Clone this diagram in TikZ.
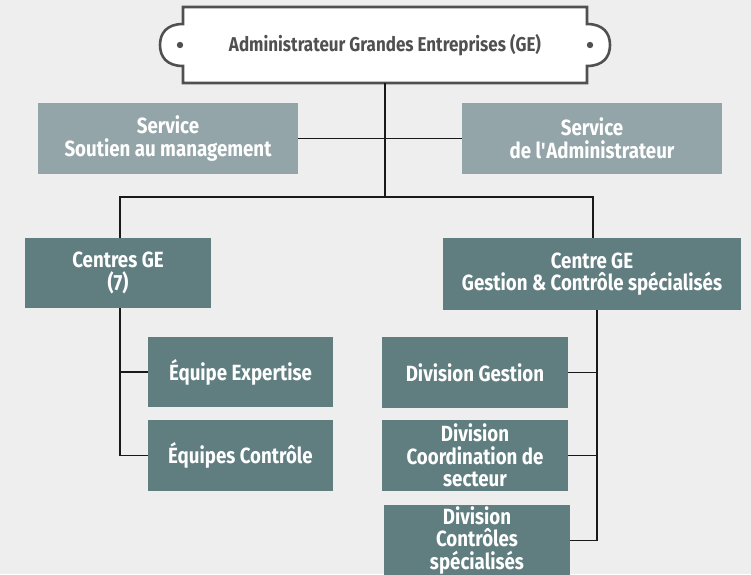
\documentclass[tikz,border=0pt]{standalone}
\usepackage{fontspec}
\setmainfont{Fira Sans}[FakeStretch=0.85]

\definecolor{bgc}{HTML}{EEEEEE}
\definecolor{svcc}{HTML}{93A5A8}
\definecolor{boxc}{HTML}{607D80}
\definecolor{frameg}{HTML}{505050}

\tikzset{
  boxtext/.style={font=\fontsize{22}{22.5}\selectfont\bfseries, text=white, align=center, inner sep=0pt},
  lbox/.style={boxtext, fill=svcc, minimum width=260pt, minimum height=71pt},
  dbox/.style={boxtext, fill=boxc, minimum width=186pt, minimum height=71pt},
  link/.style={draw=black!90, line width=1.4pt},
}

\begin{document}
\begin{tikzpicture}[x=1pt,y=-1pt]
        \useasboundingbox (0,0) rectangle (751,574);
        \clip (0,0) rectangle (751,574);
        \fill[bgc] (0,0) rectangle (751,574);

        % banner
        \draw[frameg, line width=2.6pt, fill=white] (183,7) -- (587,7) -- (587,24)
          .. controls (603,24) and (610,33) .. (610,45)
          .. controls (610,57) and (603,66) .. (587,66) -- (587,83) -- (183,83) -- (183,66)
          .. controls (167,66) and (160,57) .. (160,45)
          .. controls (160,33) and (167,24) .. (183,24) -- cycle;
        \fill[frameg] (180,45) circle (3.2);
        \fill[frameg] (590,45) circle (3.2);
        \node[boxtext, font=\fontsize{20}{22}\selectfont\bfseries, text=frameg, minimum width=404pt, minimum height=76pt] (adm) at (385,45) {Administrateur Grandes Entreprises (GE)};

        \node[lbox] (sout) at (168,138.5) {Service\\Soutien au management};
        \node[lbox] (sadm) at (592,138.5) {Service\\de l\textquotesingle Administrateur};

        \node[dbox, minimum height=70pt] (cge) at (118,273) {Centres GE\\(7)};
        \node[dbox, minimum width=298pt, minimum height=72pt] (cgs) at (592,274) {Centre GE\\Gestion \& Contrôle spécialisés};

        \node[dbox, minimum width=185pt, minimum height=70pt] (eexp) at (240.5,372) {Équipe Expertise};
        \node[dbox, minimum width=185pt] (ectl) at (240.5,455.5) {Équipes Contrôle};

        \node[dbox] (dges) at (475,372.5) {Division Gestion};
        \node[dbox] (dcoo) at (475,455.5) {Division\\Coordination de\\secteur};
        \node[dbox] (dcsp) at (477,540.5) {Division\\Contrôles\\spécialisés};

        \coordinate (top) at (385,197);
        \coordinate (lb) at ([xshift=2pt]cge.south);
        \coordinate (rb) at ([xshift=5pt]cgs.south);
        \path[link] (adm.south) -- (top);
        \path[link] (sout.east) -- (sadm.west);
        \path[link] ([xshift=2pt]cge.north) |- (top) -| ([xshift=1pt]cgs.north);

        \path[link] (lb) |- (ectl.west);
        \path[link] (eexp.west) -- (eexp.west -| lb);

        \path[link] (rb) |- (dcsp.east);
        \path[link] (dges.east) -- (dges.east -| rb);
        \path[link] (dcoo.east) -- (dcoo.east -| rb);
\end{tikzpicture}
\end{document}
